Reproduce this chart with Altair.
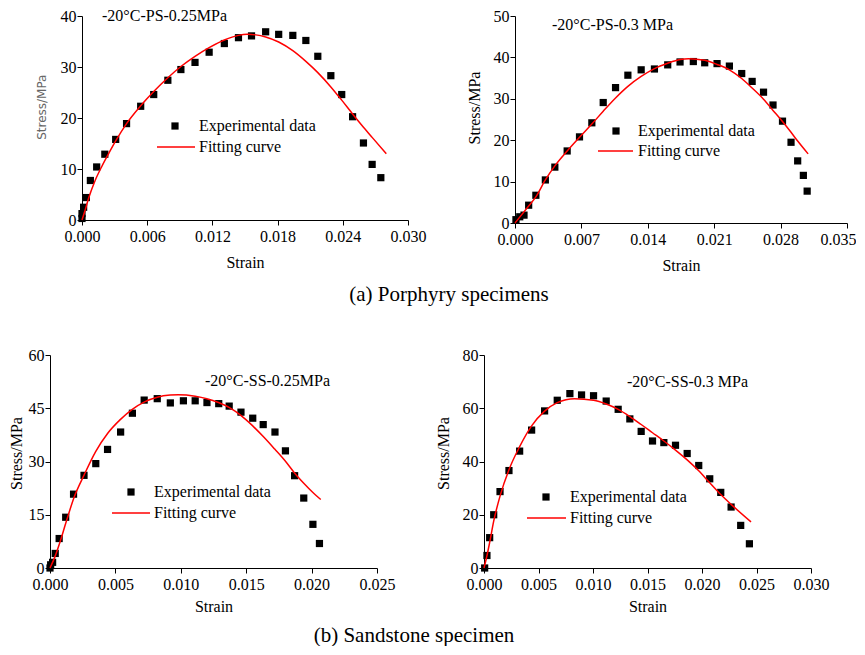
import altair as alt
import pandas as pd

FONT = "Liberation Serif"

# ---------------- data ----------------
# (a) Porphyry, -20C, 0.25 MPa
ps025_exp_strain = [0.0000, 0.0000, 0.00015, 0.0004, 0.00077, 0.00135, 0.0021, 0.0031, 0.0041, 0.0054,
                    0.0066, 0.0079, 0.0091, 0.0104, 0.0117, 0.0131, 0.0144, 0.0156, 0.0169, 0.0181,
                    0.0194, 0.0206, 0.0217, 0.0229, 0.0239, 0.0249, 0.0259, 0.0267, 0.0275]
ps025_exp_stress = [0.3, 1.25, 2.5, 4.4, 7.75, 10.4, 12.9, 15.8, 18.9, 22.3,
                    24.6, 27.4, 29.5, 30.9, 32.9, 34.6, 35.75, 36.1, 36.9, 36.4,
                    36.2, 35.2, 32.1, 28.3, 24.6, 20.25, 15.1, 10.9, 8.3]
ps025_fit_strain = [0.0, 0.0003, 0.0006, 0.0012, 0.0018, 0.0025, 0.0031, 0.0041, 0.0054, 0.0066,
                    0.0079, 0.0091, 0.0104, 0.0117, 0.0131, 0.0144, 0.0152, 0.0160, 0.0169, 0.0181,
                    0.0194, 0.0206, 0.0217, 0.0229, 0.0239, 0.0249, 0.0259, 0.0267, 0.0280]
ps025_fit_stress = [0.0, 2.0, 4.2, 7.7, 10.4, 13.2, 15.5, 18.9, 22.4, 25.2,
                    27.9, 30.1, 32.1, 33.8, 35.3, 36.2, 36.4, 36.3, 35.9, 34.9,
                    33.2, 31.1, 28.9, 26.1, 23.5, 20.8, 18.2, 16.2, 13.0]

# (a) Porphyry, -20C, 0.3 MPa
ps03_exp_strain = [0.0001, 0.0005, 0.00095, 0.00144, 0.0022, 0.0032, 0.0042, 0.0055, 0.0068, 0.0081,
                   0.0093, 0.0106, 0.0119, 0.0133, 0.0147, 0.0161, 0.0174, 0.0188, 0.0200, 0.0213,
                   0.0226, 0.0239, 0.0250, 0.0262, 0.0272, 0.0282, 0.0291, 0.0298, 0.0304, 0.0308]
ps03_exp_stress = [0.8, 1.5, 1.9, 4.3, 6.7, 10.4, 13.5, 17.4, 20.8, 24.2,
                   29.1, 32.7, 35.7, 37.0, 37.2, 38.2, 38.9, 39.0, 38.7, 38.5,
                   37.9, 36.1, 34.2, 31.6, 28.5, 24.6, 19.5, 15.0, 11.5, 7.7]
ps03_fit_strain = [0.0, 0.0014, 0.0022, 0.0032, 0.0042, 0.0055, 0.0068, 0.0081, 0.0093, 0.0106,
                   0.0119, 0.0133, 0.0147, 0.0161, 0.0174, 0.0183, 0.0200, 0.0213, 0.0226, 0.0239,
                   0.0250, 0.0262, 0.0272, 0.0282, 0.0291, 0.0298, 0.0309]
ps03_fit_stress = [0.0, 4.0, 6.3, 10.4, 13.8, 17.4, 20.7, 23.9, 27.0, 30.2,
                   33.0, 35.4, 37.3, 38.6, 39.5, 39.7, 39.3, 38.3, 37.0, 34.9,
                   32.6, 29.9, 27.2, 24.5, 21.9, 19.8, 16.7]

# (b) Sandstone, -20C, 0.25 MPa
ss025_exp_strain = [0.0, 0.00005, 0.0002, 0.0004, 0.0007, 0.0012, 0.0018, 0.0026, 0.0035, 0.0044,
                    0.0054, 0.0063, 0.0072, 0.0082, 0.0092, 0.0102, 0.0111, 0.0120, 0.0129, 0.0137,
                    0.0146, 0.0155, 0.0163, 0.0172, 0.0180, 0.0187, 0.0194, 0.0201, 0.0206]
ss025_exp_stress = [0.0, 0.9, 1.6, 4.1, 8.3, 14.3, 20.8, 26.1, 29.4, 33.4,
                    38.3, 43.6, 47.3, 47.7, 46.5, 47.1, 47.1, 46.6, 46.3, 45.6,
                    43.9, 42.2, 40.4, 38.3, 33.0, 26.0, 19.7, 12.3, 6.9]
ss025_fit_strain = [0.0, 0.00038, 0.00071, 0.00122, 0.00183, 0.00262, 0.00349, 0.00440, 0.00537, 0.00629,
                    0.00723, 0.00820, 0.00919, 0.00980, 0.01110, 0.01199, 0.01288, 0.01375, 0.01459, 0.01548,
                    0.01634, 0.01718, 0.01797, 0.01871, 0.01942, 0.02006, 0.02070]
ss025_fit_stress = [0.0, 3.2, 6.7, 12.8, 19.8, 26.3, 32.8, 37.9, 41.8, 44.7,
                    46.8, 48.1, 48.7, 48.8, 48.4, 47.7, 46.6, 45.1, 43.0, 40.1,
                    36.9, 33.5, 30.2, 26.7, 23.8, 21.4, 19.3]

# (b) Sandstone, -20C, 0.3 MPa
ss03_exp_strain = [0.00006, 0.00027, 0.00052, 0.00089, 0.00147, 0.00229, 0.00327, 0.00437, 0.00556, 0.00672,
                   0.00788, 0.00895, 0.01005, 0.01121, 0.01231, 0.01338, 0.01442, 0.01546, 0.01650, 0.01757,
                   0.01864, 0.01970, 0.02071, 0.02172, 0.02267, 0.02355, 0.02435]
ss03_exp_stress = [0.0, 4.7, 11.4, 20.0, 28.7, 36.6, 43.9, 51.8, 59.0, 63.0,
                   65.5, 65.0, 64.7, 62.7, 59.6, 56.0, 51.3, 47.7, 47.1, 46.1,
                   43.0, 38.5, 33.5, 28.4, 22.9, 16.0, 9.1]
ss03_fit_strain = [0.0, 0.00027, 0.00052, 0.00089, 0.00147, 0.00229, 0.00327, 0.00437, 0.00556, 0.00672,
                   0.00831, 0.01005, 0.01121, 0.01231, 0.01338, 0.01442, 0.01546, 0.01650, 0.01757, 0.01864,
                   0.01970, 0.02071, 0.02172, 0.02267, 0.02450]
ss03_fit_stress = [0.0, 4.6, 9.6, 17.6, 27.0, 36.9, 45.6, 53.4, 58.9, 62.1,
                   63.6, 63.0, 61.6, 59.6, 56.9, 53.9, 50.8, 47.7, 44.3, 40.6,
                   36.5, 32.0, 27.6, 23.9, 17.3]

# ticks
ticks_x_ps025 = [0.000, 0.006, 0.012, 0.018, 0.024, 0.030]
ticks_y_ps025 = [0, 10, 20, 30, 40]
ticks_x_ps03 = [0.000, 0.007, 0.014, 0.021, 0.028, 0.035]
ticks_y_ps03 = [0, 10, 20, 30, 40, 50]
ticks_x_ss025 = [0.000, 0.005, 0.010, 0.015, 0.020, 0.025]
ticks_y_ss025 = [0, 15, 30, 45, 60]
ticks_x_ss03 = [0.000, 0.005, 0.010, 0.015, 0.020, 0.025, 0.030]
ticks_y_ss03 = [0, 20, 40, 60, 80]

panel_labels = ["-20°C-PS-0.25MPa", "-20°C-PS-0.3 MPa", "-20°C-SS-0.25MPa", "-20°C-SS-0.3 MPa"]
legend_labels = ["Experimental data", "Fitting curve"]
captions = ["(a) Porphyry specimens", "(b) Sandstone specimen"]
x_title = "Strain"
y_title = "Stress/MPa"

RED = "#ff0000"


def txt(s, x, y, size=16, align="left"):
    return alt.Chart(pd.DataFrame({"t": [s]})).mark_text(
        align=align, baseline="middle", font=FONT, fontSize=size, color="black"
    ).encode(x=alt.value(x), y=alt.value(y), text="t:N")


def panel(es, ey, fs, fy, xdom, xt, ydom, yt, w, h, label, lab_xy, leg, ytkw,
          shift=0, xtitle_pad=10, extra=None, last_right=None):
    """shift: left inset (px) of the plot area inside this cell."""
    pts = pd.DataFrame({"strain": es, "stress": ey})
    crv = pd.DataFrame({"strain": fs, "stress": fy})
    xkw = {}
    if last_right is not None:
        xkw["labelAlign"] = {"condition": {"test": "datum.value >= %s" % last_right, "value": "right"},
                             "value": "center"}
        xkw["labelOffset"] = {"condition": {"test": "datum.value >= %s" % last_right, "value": 9},
                              "value": 0}
    xax = alt.Axis(values=xt, format=".3f", title=x_title, grid=False, tickSize=5,
                   labelFlush=False, labelOverlap=False, labelPadding=3, titlePadding=xtitle_pad,
                   domainColor="black", tickColor="black", labelColor="black",
                   labelFont=FONT, labelFontSize=16, titleFont=FONT, titleFontSize=16,
                   titleFontWeight="normal", titleColor="black", **xkw)
    ykw = dict(ytkw)
    if shift:
        ykw["offset"] = -shift
    yax = alt.Axis(values=yt, title=y_title, grid=False, tickSize=5, labelOverlap=False,
                   labelPadding=1, domainColor="black", tickColor="black", labelColor="black",
                   labelFont=FONT, labelFontSize=16, titleFontWeight="normal", **ykw)
    xs = alt.Scale(domain=xdom, nice=False, zero=False, range=[shift, shift + w])
    ys = alt.Scale(domain=ydom, nice=False, zero=False)
    sq = alt.Chart(pts).mark_square(size=52, color="black", opacity=1).encode(
        x=alt.X("strain:Q", scale=xs, axis=xax), y=alt.Y("stress:Q", scale=ys, axis=yax))
    ln = alt.Chart(crv).mark_line(color=RED, strokeWidth=1.5, interpolate="monotone").encode(
        x="strain:Q", y="stress:Q", order=alt.Order("strain:Q"))
    sqx, sqy, tx, lx1, lx2, ly = leg
    layers = [sq, ln,
              txt(label, lab_xy[0] + shift, lab_xy[1]),
              alt.Chart(pd.DataFrame({"a": [0]})).mark_square(size=52, color="black", opacity=1)
              .encode(x=alt.value(sqx + shift), y=alt.value(sqy)),
              txt(legend_labels[0], tx + shift, sqy),
              alt.Chart(pd.DataFrame({"a": [0]})).mark_rule(color=RED, strokeWidth=1.5)
              .encode(x=alt.value(lx1 + shift), x2=alt.value(lx2 + shift), y=alt.value(ly)),
              txt(legend_labels[1], tx + shift, ly)]
    if extra is not None:
        for (s, x, y, size, align) in extra:
            layers.append(txt(s, x + shift, y, size=size, align=align))
    return alt.layer(*layers).properties(width=363 if shift else w, height=h)


ykw_gray = dict(titleFont="DejaVu Sans", titleFontSize=12, titleColor="#666666", titlePadding=11.5, titleY=90.7)
ykw_p2 = dict(titleFont=FONT, titleFontSize=16, titleColor="black", titlePadding=11, titleY=91.5)
ykw_p3 = dict(titleFont=FONT, titleFontSize=16, titleColor="black", titlePadding=4, titleY=98)
ykw_p4 = dict(titleFont=FONT, titleFontSize=16, titleColor="black", titlePadding=11, titleY=98)

p1 = panel(ps025_exp_strain, ps025_exp_stress, ps025_fit_strain, ps025_fit_stress,
           [0, 0.030], ticks_x_ps025, [0, 40], ticks_y_ps025, 326, 204,
           panel_labels[0], (20, 0), (93, 110, 117, 75, 113, 131), ykw_gray, shift=32,
           extra=[(captions[0], 367, 279, 21, "center")])
p2 = panel(ps03_exp_strain, ps03_exp_stress, ps03_fit_strain, ps03_fit_stress,
           [0, 0.035], ticks_x_ps03, [0, 50], ticks_y_ps03, 332, 207,
           panel_labels[1], (37, 9), (101, 115, 123, 83, 118, 135), ykw_p2, shift=31,
           last_right=0.0349)
p3 = panel(ss025_exp_strain, ss025_exp_stress, ss025_fit_strain, ss025_fit_stress,
           [0, 0.025], ticks_x_ss025, [0, 60], ticks_y_ss025, 327, 213,
           panel_labels[2], (155, 26), (81, 137, 104, 62, 100, 158), ykw_p3, xtitle_pad=6,
           extra=[(captions[1], 364, 281, 21, "center")])
p4 = panel(ss03_exp_strain, ss03_exp_stress, ss03_fit_strain, ss03_fit_stress,
           [0, 0.030], ticks_x_ss03, [0, 80], ticks_y_ss03, 327, 213,
           panel_labels[3], (143, 27), (62, 142, 86, 43, 82, 163), ykw_p4, xtitle_pad=6)

chart = alt.concat(
    p1, p2, p3, p4, columns=2, bounds="flush", align="each",
    spacing=alt.RowColnumber(row=132, column=71),
    padding={"left": 0, "top": 0, "right": 0, "bottom": 0},
    background="white",
).configure_view(stroke=None)

chart.save("out.html", embed_options={"renderer": "svg", "actions": False})
